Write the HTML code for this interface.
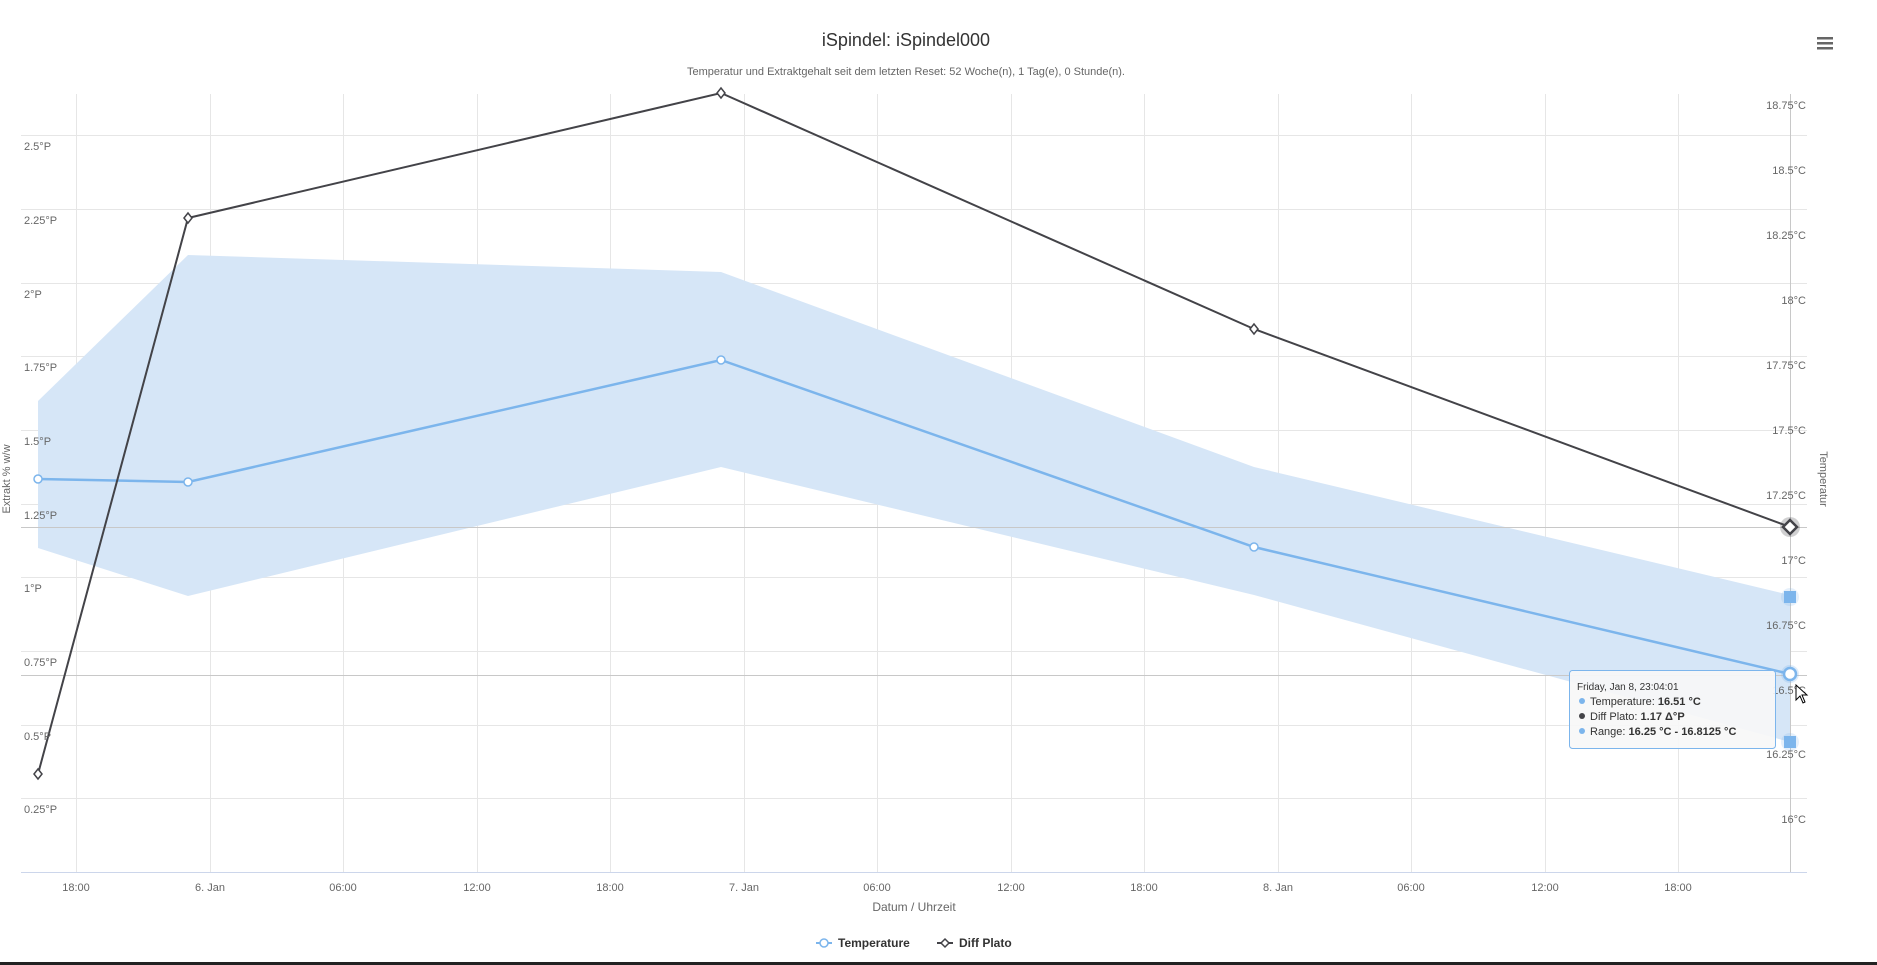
<!DOCTYPE html>
<html><head><meta charset="utf-8"><style>
body{margin:0;background:#fff;}
svg{display:block;font-family:"Liberation Sans",sans-serif;}
</style></head><body>
<svg width="1877" height="965" viewBox="0 0 1877 965" xmlns="http://www.w3.org/2000/svg">
<rect width="1877" height="965" fill="#fff"/>
<text x="906" y="46" text-anchor="middle" font-size="18" fill="#333">iSpindel: iSpindel000</text>
<text x="906" y="75" text-anchor="middle" font-size="11" fill="#666">Temperatur und Extraktgehalt seit dem letzten Reset: 52 Woche(n), 1 Tag(e), 0 Stunde(n).</text>
<g fill="#666"><rect x="1817" y="37" width="16" height="2.5"/><rect x="1817" y="42" width="16" height="2.5"/><rect x="1817" y="47" width="16" height="2.5"/></g>
<g stroke="#e6e6e6" stroke-width="1">
<line x1="21" y1="135.5" x2="1807" y2="135.5"/><line x1="21" y1="209.5" x2="1807" y2="209.5"/><line x1="21" y1="283.5" x2="1807" y2="283.5"/><line x1="21" y1="356.5" x2="1807" y2="356.5"/><line x1="21" y1="430.5" x2="1807" y2="430.5"/><line x1="21" y1="504.5" x2="1807" y2="504.5"/><line x1="21" y1="577.5" x2="1807" y2="577.5"/><line x1="21" y1="651.5" x2="1807" y2="651.5"/><line x1="21" y1="725.5" x2="1807" y2="725.5"/><line x1="21" y1="798.5" x2="1807" y2="798.5"/>
<line x1="76.5" y1="94" x2="76.5" y2="872"/><line x1="210.5" y1="94" x2="210.5" y2="872"/><line x1="343.5" y1="94" x2="343.5" y2="872"/><line x1="477.5" y1="94" x2="477.5" y2="872"/><line x1="610.5" y1="94" x2="610.5" y2="872"/><line x1="744.5" y1="94" x2="744.5" y2="872"/><line x1="877.5" y1="94" x2="877.5" y2="872"/><line x1="1011.5" y1="94" x2="1011.5" y2="872"/><line x1="1144.5" y1="94" x2="1144.5" y2="872"/><line x1="1278.5" y1="94" x2="1278.5" y2="872"/><line x1="1411.5" y1="94" x2="1411.5" y2="872"/><line x1="1545.5" y1="94" x2="1545.5" y2="872"/><line x1="1678.5" y1="94" x2="1678.5" y2="872"/>
</g>
<line x1="21" y1="872.5" x2="1807" y2="872.5" stroke="#ccd6eb"/>
<polygon points="38,401 188,255 721,272 1254,467 1790,595 1790,742 1254,595 721,467 188,596 38,548" fill="#d6e6f7"/>
<line x1="21" y1="527.5" x2="1807" y2="527.5" stroke="#c8c8c8"/>
<line x1="21" y1="675.5" x2="1807" y2="675.5" stroke="#c8c8c8"/>
<line x1="1790.5" y1="94" x2="1790.5" y2="872" stroke="#c8c8c8"/>
<polyline points="38,479 188,482 721,360 1254,547 1790,674" fill="none" stroke="#7cb5ec" stroke-width="2.5"/>
<g fill="#fff" stroke="#7cb5ec" stroke-width="1.5"><circle cx="38" cy="479" r="4"/><circle cx="188" cy="482" r="4"/><circle cx="721" cy="360" r="4"/><circle cx="1254" cy="547" r="4"/></g>
<circle cx="1790" cy="674" r="9" fill="#7cb5ec" opacity="0.25"/>
<circle cx="1790" cy="674" r="6" fill="#fff" stroke="#7cb5ec" stroke-width="2.5"/>
<circle cx="1790" cy="597" r="9" fill="#7cb5ec" opacity="0.2"/><rect x="1784" y="591" width="12" height="12" fill="#7cb5ec"/>
<circle cx="1790" cy="742" r="9" fill="#7cb5ec" opacity="0.2"/><rect x="1784" y="736" width="12" height="12" fill="#7cb5ec"/>
<polyline points="38,774 188,218 721,93 1254,329 1790,527" fill="none" stroke="#434348" stroke-width="2"/>
<g fill="#fff" stroke="#434348" stroke-width="1.5"><path d="M38 769 L42 774 L38 779 L34 774Z"/><path d="M188 213 L192 218 L188 223 L184 218Z"/><path d="M721 88 L725 93 L721 98 L717 93Z"/><path d="M1254 324 L1258 329 L1254 334 L1250 329Z"/></g>
<circle cx="1790" cy="527" r="10" fill="#434348" opacity="0.25"/>
<path d="M1790 520 L1797 527 L1790 534 L1783 527Z" fill="#fff" stroke="#434348" stroke-width="2.5"/>
<g font-size="11" fill="#666">
<text x="24" y="150">2.5°P</text><text x="24" y="224">2.25°P</text><text x="24" y="298">2°P</text><text x="24" y="371">1.75°P</text><text x="24" y="445">1.5°P</text><text x="24" y="519">1.25°P</text><text x="24" y="592">1°P</text><text x="24" y="666">0.75°P</text><text x="24" y="740">0.5°P</text><text x="24" y="813">0.25°P</text>
</g>
<g font-size="11" fill="#666" text-anchor="end">
<text x="1806" y="109">18.75°C</text><text x="1806" y="174">18.5°C</text><text x="1806" y="239">18.25°C</text><text x="1806" y="304">18°C</text><text x="1806" y="369">17.75°C</text><text x="1806" y="434">17.5°C</text><text x="1806" y="499">17.25°C</text><text x="1806" y="564">17°C</text><text x="1806" y="629">16.75°C</text><text x="1806" y="694">16.5°C</text><text x="1806" y="758">16.25°C</text><text x="1806" y="823">16°C</text>
</g>
<g font-size="11" fill="#666" text-anchor="middle">
<text x="76" y="891">18:00</text><text x="210" y="891">6. Jan</text><text x="343" y="891">06:00</text><text x="477" y="891">12:00</text><text x="610" y="891">18:00</text><text x="744" y="891">7. Jan</text><text x="877" y="891">06:00</text><text x="1011" y="891">12:00</text><text x="1144" y="891">18:00</text><text x="1278" y="891">8. Jan</text><text x="1411" y="891">06:00</text><text x="1545" y="891">12:00</text><text x="1678" y="891">18:00</text>
</g>
<text x="914" y="911" text-anchor="middle" font-size="12" fill="#666">Datum / Uhrzeit</text>
<text transform="translate(10,479) rotate(-90)" text-anchor="middle" font-size="11" fill="#666">Extrakt % w/w</text>
<text transform="translate(1820,479) rotate(90)" text-anchor="middle" font-size="11" fill="#666">Temperatur</text>
<g font-size="12" font-weight="bold" fill="#333">
<line x1="816" y1="943" x2="832" y2="943" stroke="#7cb5ec" stroke-width="2"/><circle cx="824" cy="943" r="4" fill="#fff" stroke="#7cb5ec" stroke-width="1.5"/>
<text x="838" y="947">Temperature</text>
<line x1="937" y1="943" x2="953" y2="943" stroke="#434348" stroke-width="2"/><path d="M945 939 L949 943 L945 947 L941 943Z" fill="#fff" stroke="#434348" stroke-width="1.5"/>
<text x="959" y="947">Diff Plato</text>
</g>
<rect x="0" y="962" width="1877" height="3" fill="#222"/>
<rect x="1569.5" y="670.5" width="206" height="78" rx="3" fill="#f7f7f7" fill-opacity="0.92" stroke="#7cb5ec"/>
<g font-size="11" fill="#333">
<text x="1577" y="690" font-size="10">Friday, Jan 8, 23:04:01</text>
<circle cx="1582" cy="701" r="3" fill="#7cb5ec"/><text x="1590" y="705">Temperature: <tspan font-weight="bold">16.51 °C</tspan></text>
<circle cx="1582" cy="716" r="3" fill="#434348"/><text x="1590" y="720">Diff Plato: <tspan font-weight="bold">1.17 Δ°P</tspan></text>
<circle cx="1582" cy="731" r="3" fill="#7cb5ec"/><text x="1590" y="735">Range: <tspan font-weight="bold">16.25 °C - 16.8125 °C</tspan></text>
</g>
<path d="M1796 685 L1796 700 L1800 696 L1803 703 L1805 702 L1802 695 L1807 695Z" fill="#fff" stroke="#000" stroke-width="1"/>
</svg>
</body></html>
